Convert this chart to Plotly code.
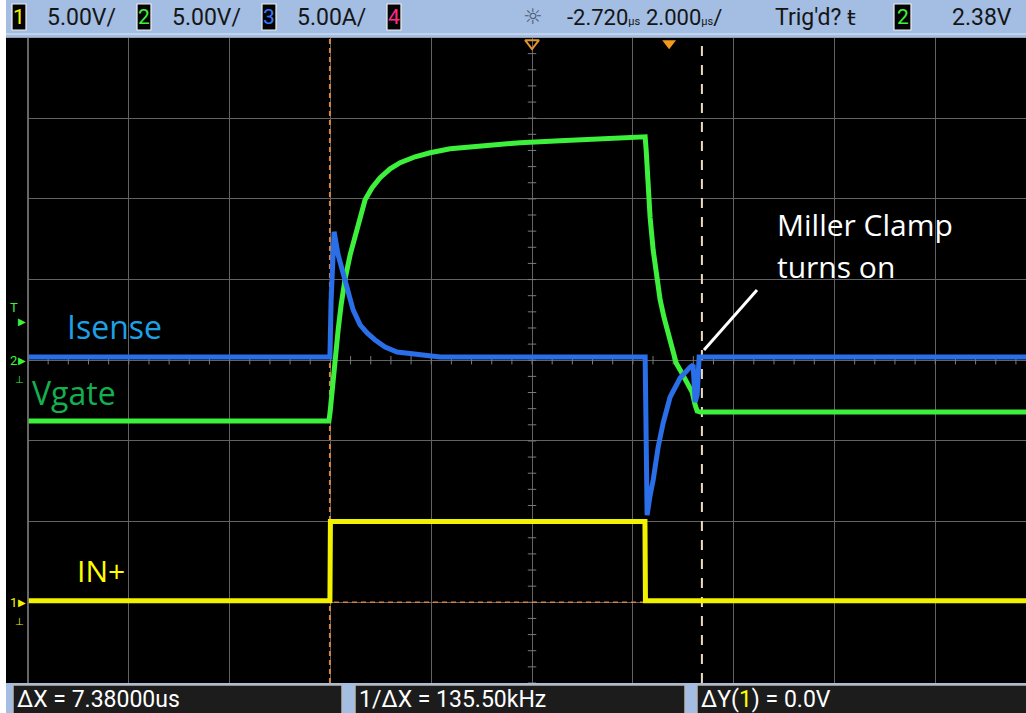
import plotly.graph_objects as go

W, H = 1026, 713

# ---- scope settings ----
TIME_PER_DIV = 2.0          # us/div
DELAY = -2.72               # us (screen centre relative to trigger)
T_LEFT = DELAY - 5 * TIME_PER_DIV     # left edge of graticule
T_RIGHT_VISIBLE = 7.08                # right edge of the cropped picture
CH1_SCALE, CH1_OFFSET_DIV = 5.0, -3.0  # V/div, ground position (div)
CH2_SCALE, CH2_OFFSET_DIV = 5.0, 0.0
CH3_SCALE, CH3_OFFSET_DIV = 5.0, 0.0
CURSOR_X1 = -6.73
DELTA_X = 7.38
TRIG_LEVEL = 2.38

# ---- channel 1 : IN+ (V) ----
in_t = [-12.72, -6.73, -6.72, -0.48, -0.47, 7.28]
in_v = [0.1, 0.1, 5.0, 5.0, 0.1, 0.1]

# ---- channel 2 : Vgate (V) ----
vg_t = [-12.72, -6.75, -6.726, -6.706, -6.667, -6.627, -6.567, -6.508, -6.429,
        -6.329, -6.230, -6.131, -6.032, -5.893, -5.734, -5.536, -5.337, -5.040,
        -4.742, -4.345, -3.750, -2.956, -2.163, -1.369, -0.476,
        -0.456, -0.417, -0.377, -0.317, -0.258, -0.179, -0.099, -0.040, 0.060,
        0.139, 0.218, 0.298, 0.377, 0.456, 0.516, 0.556, 0.615, 7.28]
vg_v = [-3.77, -3.77, -3.2, -2.47, -0.91, 0.33, 1.88, 3.43, 5.04,
        6.53, 7.77, 9.01, 9.94, 10.69, 11.31, 11.86, 12.24, 12.61,
        12.86, 13.11, 13.29, 13.48, 13.60, 13.73, 13.85,
        13.04, 10.87, 8.82, 6.84, 5.29, 3.74, 2.62, 1.88, 0.64,
        -0.17, -0.60, -1.10, -1.53, -1.97, -2.78, -3.15, -3.21, -3.21]

# ---- channel 3 : Isense (A) ----
is_t = [-12.72, -6.73, -6.706, -6.647, -6.567, -6.488, -6.429, -6.349, -6.270,
        -6.131, -5.992, -5.833, -5.635, -5.397, -4.940, -4.544,
        -0.476, -0.437, -0.377, -0.317, -0.218, -0.119, 0.020, 0.218, 0.417,
        0.476, 0.516, 0.556, 0.595, 7.28]
is_a = [0.2, 0.2, 3.74, 7.96, 6.53, 5.60, 5.04, 4.05, 3.12,
        2.19, 1.69, 1.26, 0.82, 0.51, 0.33, 0.2,
        0.2, -9.60, -8.36, -7.43, -5.38, -3.89, -2.28, -1.10, -0.42,
        -0.29, -2.59, -2.15, 0.2, 0.2]

# ---- screen text ----
top_items = [("1", "#f5f500", "5.00V/"), ("2", "#3cf03c", "5.00V/"),
             ("3", "#3c78ff", "5.00A/"), ("4", "#ff2a8a", "")]
bottom_texts = ["ΔX = 7.38000us", "1/ΔX = 135.50kHz",
                "ΔY(<span style='color:#ffff00'>1</span>) = 0.0V"]

YEL, GRN, BLU = "#f2f200", "#3cf03c", "#2a6ee8"
BAR = "#a3bde3"
GRID = "#636363"


def px(x):
    return x / W


def py(y):
    return 1 - y / H


def ch_range(scale, off):
    return [(-4 - off) * scale, (4 - off) * scale]


fig = go.Figure()

# cursors (beneath the traces)
x2 = CURSOR_X1 + DELTA_X
fig.add_trace(go.Scatter(x=[CURSOR_X1, CURSOR_X1], y=[-4, 4], mode="lines",
                         line=dict(color="#d8843a", width=2, dash="5px,4px"),
                         yaxis="y", hoverinfo="skip"))
fig.add_trace(go.Scatter(x=[x2, x2], y=[-4, 4], mode="lines",
                         line=dict(color="#eadcbc", width=2, dash="10px,9px"),
                         yaxis="y", hoverinfo="skip"))
fig.add_trace(go.Scatter(x=[T_LEFT, 7.28], y=[0, 0], mode="lines",
                         line=dict(color="#d8843a", width=1.6, dash="5px,4px"),
                         yaxis="y2", hoverinfo="skip"))

# centre crosshair ticks
ctr_x = [T_LEFT + k * TIME_PER_DIV / 5 for k in range(0, 51)]
fig.add_trace(go.Scatter(x=ctr_x, y=[0] * len(ctr_x), mode="markers",
                         marker=dict(symbol="line-ns", size=6,
                                     line=dict(color="#7a7a7a", width=1)),
                         yaxis="y", hoverinfo="skip"))
ctr_y = [-4 + k * 0.2 for k in range(0, 41)]
fig.add_trace(go.Scatter(x=[DELAY] * len(ctr_y), y=ctr_y, mode="markers",
                         marker=dict(symbol="line-ew", size=6,
                                     line=dict(color="#7a7a7a", width=1)),
                         yaxis="y", hoverinfo="skip"))

# waveforms
fig.add_trace(go.Scatter(x=is_t, y=is_a, mode="lines", yaxis="y4",
                         line=dict(color=BLU, width=5), hoverinfo="skip"))
fig.add_trace(go.Scatter(x=vg_t, y=vg_v, mode="lines", yaxis="y3",
                         line=dict(color=GRN, width=5), hoverinfo="skip"))
fig.add_trace(go.Scatter(x=in_t, y=in_v, mode="lines", yaxis="y2",
                         line=dict(color=YEL, width=5), hoverinfo="skip"))

# top markers: time reference (hollow) and trigger point (filled)
fig.add_trace(go.Scatter(x=[DELAY], y=[3.93], mode="markers", yaxis="y",
                         marker=dict(symbol="triangle-down-open", size=12, color="#e0922e",
                                     line=dict(color="#e0922e", width=2)),
                         hoverinfo="skip"))
fig.add_trace(go.Scatter(x=[0], y=[3.93], mode="markers", yaxis="y",
                         marker=dict(symbol="triangle-down", size=12, color="#f39a1e"),
                         hoverinfo="skip"))

x0d = 28 / W
y_bot, y_top = 683, 37.5
ydom = [py(y_bot), py(y_top)]

axis_hidden = dict(showgrid=False, zeroline=False, showticklabels=False,
                   ticks="", showline=False, fixedrange=True)

fig.update_layout(
    width=W, height=H, margin=dict(l=0, r=0, t=0, b=0),
    paper_bgcolor="white", plot_bgcolor="black", showlegend=False,
    hovermode=False,
    xaxis=dict(range=[T_LEFT, T_RIGHT_VISIBLE], domain=[x0d, 1],
               showgrid=True, gridcolor=GRID, gridwidth=1,
               tick0=T_LEFT, dtick=TIME_PER_DIV, zeroline=False,
               showticklabels=False, ticks="", showline=False),
    yaxis=dict(range=[-4, 4], domain=ydom, showgrid=True, gridcolor=GRID,
               gridwidth=1, tick0=-4, dtick=1, zeroline=False,
               showticklabels=False, ticks=""),
    yaxis2=dict(range=ch_range(CH1_SCALE, CH1_OFFSET_DIV), overlaying="y", **axis_hidden),
    yaxis3=dict(range=ch_range(CH2_SCALE, CH2_OFFSET_DIV), overlaying="y", **axis_hidden),
    yaxis4=dict(range=ch_range(CH3_SCALE, CH3_OFFSET_DIV), overlaying="y", **axis_hidden),
)

shapes = []
annos = []
# left black strip
shapes.append(dict(type="rect", xref="paper", yref="paper", x0=px(6), x1=px(28.5),
                   y0=py(y_bot), y1=py(y_top), fillcolor="black", line=dict(width=0)))
shapes.append(dict(type="line", xref="paper", yref="paper", x0=px(28), x1=px(28),
                   y0=py(y_bot), y1=py(y_top), line=dict(color="#8a8a8a", width=1.5)))
# top bar
shapes.append(dict(type="rect", xref="paper", yref="paper", x0=px(6), x1=1,
                   y0=py(y_top), y1=1, fillcolor=BAR, line=dict(width=0)))
shapes.append(dict(type="line", xref="paper", yref="paper", x0=px(6), x1=1,
                   y0=py(34), y1=py(34), line=dict(color="#dfe8f5", width=1)))
# bottom bar
shapes.append(dict(type="rect", xref="paper", yref="paper", x0=px(6), x1=1,
                   y0=0, y1=py(y_bot), fillcolor=BAR, line=dict(width=0)))
for (a, b) in [(13, 342), (355, 685), (697, 1030)]:
    shapes.append(dict(type="rect", xref="paper", yref="paper", x0=px(a), x1=px(b),
                       y0=py(716), y1=py(685), fillcolor="#1c1c1c",
                       line=dict(color="#b8b8b8", width=1.5)))

# top-bar channel boxes and texts
FONT_SCOPE = "Roboto, Liberation Sans, sans-serif"
box_x = [12, 137, 262, 387]
txt_x = [45, 170, 295, None]
for (num, col, txt), bx, tx in zip(top_items, box_x, txt_x):
    shapes.append(dict(type="rect", xref="paper", yref="paper", x0=px(bx), x1=px(bx + 14),
                       y0=py(30), y1=py(4), fillcolor="#050505",
                       line=dict(color="#f0f0f0", width=1.2)))
    annos.append(dict(x=px(bx + 7), y=py(17), xref="paper", yref="paper", text=num,
                      showarrow=False, font=dict(family=FONT_SCOPE, size=21, color=col),
                      xanchor="center", yanchor="middle"))
    if txt:
        annos.append(dict(x=px(tx), y=py(17), xref="paper", yref="paper", text=txt,
                          showarrow=False, font=dict(family=FONT_SCOPE, size=23, color="#151515"),
                          xanchor="left", yanchor="middle"))

# right side of top bar
annos.append(dict(x=px(533), y=py(16), xref="paper", yref="paper", text="☼",
                  showarrow=False, font=dict(family="DejaVu Sans", size=22, color="#4a5a70"),
                  xanchor="center", yanchor="middle"))
annos.append(dict(x=px(565), y=py(17), xref="paper", yref="paper",
                  text="-2.720<span style='font-size:11px'>µs</span>",
                  showarrow=False, font=dict(family=FONT_SCOPE, size=22, color="#151515"),
                  xanchor="left", yanchor="middle"))
annos.append(dict(x=px(644), y=py(17), xref="paper", yref="paper",
                  text="2.000<span style='font-size:11px'>µs</span>/",
                  showarrow=False, font=dict(family=FONT_SCOPE, size=22, color="#151515"),
                  xanchor="left", yanchor="middle"))
annos.append(dict(x=px(773), y=py(17), xref="paper", yref="paper", text="Trig'd?",
                  showarrow=False, font=dict(family=FONT_SCOPE, size=23, color="#151515"),
                  xanchor="left", yanchor="middle"))
annos.append(dict(x=px(851), y=py(17), xref="paper", yref="paper", text="ŧ",
                  showarrow=False, font=dict(family="DejaVu Sans", size=22, color="#151515"),
                  xanchor="center", yanchor="middle"))
shapes.append(dict(type="rect", xref="paper", yref="paper", x0=px(894), x1=px(911),
                   y0=py(30), y1=py(4), fillcolor="#050505",
                   line=dict(color="#f0f0f0", width=1.2)))
annos.append(dict(x=px(902.5), y=py(17), xref="paper", yref="paper", text="2",
                  showarrow=False, font=dict(family=FONT_SCOPE, size=21, color=GRN),
                  xanchor="center", yanchor="middle"))
annos.append(dict(x=px(950), y=py(17), xref="paper", yref="paper", text=f"{TRIG_LEVEL:.2f}V",
                  showarrow=False, font=dict(family=FONT_SCOPE, size=23, color="#151515"),
                  xanchor="left", yanchor="middle"))

# bottom texts
for tx, bx in zip(bottom_texts, [15, 357, 699]):
    annos.append(dict(x=px(bx), y=py(699), xref="paper", yref="paper", text=tx,
                      showarrow=False, font=dict(family=FONT_SCOPE, size=23, color="white"),
                      xanchor="left", yanchor="middle"))

# left-edge markers (trigger level, ch2 ground, ch1 ground)
annos.append(dict(x=px(14), y=TRIG_LEVEL + 0.9, xref="paper", yref="y3", text="T",
                  showarrow=False, font=dict(family=FONT_SCOPE, size=13, color=GRN),
                  xanchor="center", yanchor="middle"))
annos.append(dict(x=px(22), y=TRIG_LEVEL, xref="paper", yref="y3", text="▶",
                  showarrow=False, font=dict(family="DejaVu Sans", size=10, color=GRN),
                  xanchor="center", yanchor="middle"))
annos.append(dict(x=px(13), y=0, xref="paper", yref="y3", text="2",
                  showarrow=False, font=dict(family=FONT_SCOPE, size=13, color=GRN),
                  xanchor="center", yanchor="middle"))
annos.append(dict(x=px(22), y=0, xref="paper", yref="y3", text="▶",
                  showarrow=False, font=dict(family="DejaVu Sans", size=10, color=GRN),
                  xanchor="center", yanchor="middle"))
annos.append(dict(x=px(19), y=-1.2, xref="paper", yref="y3", text="⊥",
                  showarrow=False, font=dict(family="DejaVu Sans", size=10, color=GRN),
                  xanchor="center", yanchor="middle"))
annos.append(dict(x=px(13), y=0, xref="paper", yref="y2", text="1",
                  showarrow=False, font=dict(family=FONT_SCOPE, size=13, color=YEL),
                  xanchor="center", yanchor="middle"))
annos.append(dict(x=px(22), y=0, xref="paper", yref="y2", text="▶",
                  showarrow=False, font=dict(family="DejaVu Sans", size=10, color=YEL),
                  xanchor="center", yanchor="middle"))
annos.append(dict(x=px(19), y=-1.2, xref="paper", yref="y2", text="⊥",
                  showarrow=False, font=dict(family="DejaVu Sans", size=10, color=YEL),
                  xanchor="center", yanchor="middle"))

# slide annotations
FONT_NOTE = "Open Sans, Liberation Sans, sans-serif"
notes = [("Isense", "#1ea0e6", 65, 327, 32), ("Vgate", "#14b050", 30, 392, 32),
         ("IN+", "#ffff00", 75, 570, 30), ("Miller Clamp", "white", 775, 224, 30),
         ("turns on", "white", 775, 266, 30)]
for txt, col, x, y, sz in notes:
    annos.append(dict(x=px(x), y=py(y), xref="paper", yref="paper", text=txt,
                      showarrow=False, font=dict(family=FONT_NOTE, size=sz, color=col),
                      xanchor="left", yanchor="middle"))
shapes.append(dict(type="line", xref="paper", yref="paper", x0=px(704), y0=py(350),
                   x1=px(757), y1=py(290), line=dict(color="white", width=3)))

fig.update_layout(shapes=shapes, annotations=annos)
fig.write_html("out.html",
               config={"displayModeBar": False, "staticPlot": True},
               post_script="document.body.style.margin='0';document.body.style.padding='0';"
                           "document.documentElement.style.overflow='hidden';")
